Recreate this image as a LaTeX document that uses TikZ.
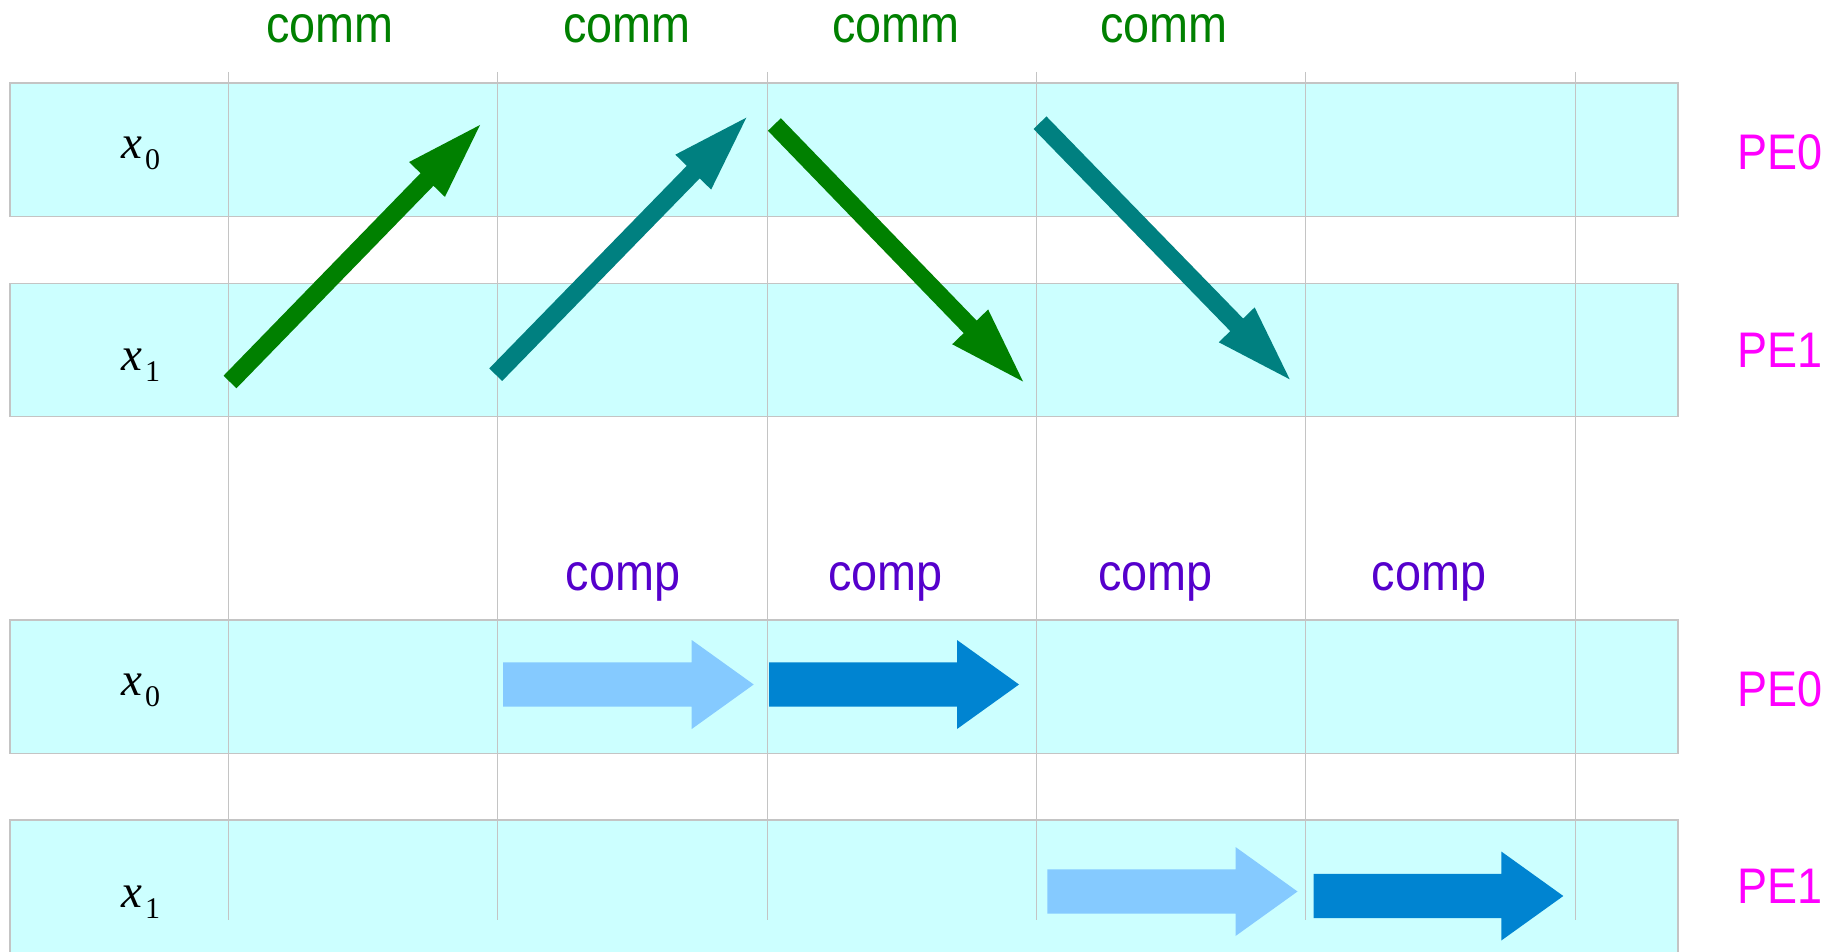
\documentclass[tikz,border=0pt]{standalone}
\usepackage{fontspec}
\setmainfont{Liberation Sans}[FakeStretch=0.9]
\newfontfamily\serifx{Liberation Serif}
\usetikzlibrary{calc}
\definecolor{rowfill}{HTML}{CCFFFF}
\definecolor{rowline}{HTML}{C4C4C4}
\definecolor{gridline}{HTML}{C4C4C4}
\definecolor{commgreen}{HTML}{008000}
\definecolor{commteal}{HTML}{008080}
\definecolor{compviolet}{HTML}{5500CC}
\definecolor{lightblue}{HTML}{85CAFF}
\definecolor{darkblue}{HTML}{0084D1}
\definecolor{pemag}{HTML}{FF00FF}
% tail, tip, shaft half width, head length, head half width, colour
\newcommand\blockarrow[6]{%
  \coordinate (ba-h) at ($(#2)!#4!(#1)$);
  \fill[#6] ($(#1)!#3!90:(#2)$) -- ($(ba-h)!#3!90:(#2)$) -- ($(ba-h)!#5!90:(#2)$)
    -- (#2) -- ($(ba-h)!#5!-90:(#2)$) -- ($(ba-h)!#3!-90:(#2)$) -- ($(#1)!#3!-90:(#2)$) -- cycle;}
\newcommand\xsub[1]{{\serifx\fontsize{47}{50}\selectfont\itshape x}\hspace{3pt}\raisebox{-11pt}{\serifx\fontsize{30}{32}\selectfont #1}}
\begin{document}
\begin{tikzpicture}[x=1pt,y=-1pt,
  rowbox/.style={fill=rowfill,draw=rowline,line width=1.6pt},
  gridrule/.style={draw=gridline,line width=1pt},
  commlabel/.style={text=commgreen,anchor=base,inner sep=0pt,font=\fontsize{52}{60}\selectfont},
  complabel/.style={text=compviolet,anchor=base,inner sep=0pt,font=\fontsize{52}{60}\selectfont},
  pelabel/.style={text=pemag,anchor=base west,inner sep=0pt,font=\fontsize{50}{60}\selectfont},
  xlabel/.style={anchor=base west,inner sep=0pt,text=black}]
\useasboundingbox (0,0) rectangle (1843,952);
\fill[white] (0,0) rectangle (1843,952);
% rows
\path[rowbox] (10,83.3) rectangle (1678,216.3);
\path[rowbox] (10,283.3) rectangle (1678,416.3);
\path[rowbox] (10,620) rectangle (1678,753.3);
\path[rowbox] (10,820) rectangle (1678,960);
% grid rules
\foreach \gx in {228.5,497.5,767.5,1036.5,1305.5,1575.5}
  \draw[gridrule] (\gx,72) -- (\gx,920);
% labels
\node[commlabel] (cm1) at (330,42.5) {comm};
\node[commlabel] (cm2) at (627,42.5) {comm};
\node[commlabel] (cm3) at (896,42.5) {comm};
\node[commlabel] (cm4) at (1163.7,42.5) {comm};
\node[complabel] (cp1) at (623,590) {comp};
\node[complabel] (cp2) at (885.7,590) {comp};
\node[complabel] (cp3) at (1155.5,590) {comp};
\node[complabel] (cp4) at (1429,590) {comp};
\node[pelabel] (pa0) at (1737.6,170) {PE0};
\node[pelabel] (pa1) at (1737.6,367) {PE1};
\node[pelabel] (pb0) at (1737.6,706.7) {PE0};
\node[pelabel] (pb1) at (1737.6,903) {PE1};
\node[xlabel] (xa0) at (121,159) {\xsub{0}};
\node[xlabel] (xa1) at (121,370) {\xsub{1}};
\node[xlabel] (xb0) at (121,695) {\xsub{0}};
\node[xlabel] (xb1) at (121,907) {\xsub{1}};
% communication arrows
\coordinate (t1) at (230,382);     \coordinate (h1) at (480,125);
\coordinate (t2) at (495.7,374.7); \coordinate (h2) at (746.3,117.7);
\coordinate (t3) at (774.4,124.5); \coordinate (h3) at (1023,381.5);
\coordinate (t4) at (1040,122.7);  \coordinate (h4) at (1289.7,379.3);
\blockarrow{t1}{h1}{9pt}{76pt}{25pt}{commgreen}
\blockarrow{t2}{h2}{9pt}{76pt}{25pt}{commteal}
\blockarrow{t3}{h3}{9pt}{76pt}{25pt}{commgreen}
\blockarrow{t4}{h4}{9pt}{76pt}{25pt}{commteal}
% computation arrows
\coordinate (u1) at (503,684.5);    \coordinate (v1) at (753.7,684.5);
\coordinate (u2) at (769,684.5);    \coordinate (v2) at (1019,684.5);
\coordinate (u3) at (1047.3,891.5); \coordinate (v3) at (1297.5,891.5);
\coordinate (u4) at (1313.7,896);   \coordinate (v4) at (1563.3,896);
\blockarrow{u1}{v1}{22.2pt}{62pt}{44.5pt}{lightblue}
\blockarrow{u2}{v2}{22.2pt}{62pt}{44.5pt}{darkblue}
\blockarrow{u3}{v3}{22.2pt}{62pt}{44.5pt}{lightblue}
\blockarrow{u4}{v4}{22.2pt}{62pt}{44.5pt}{darkblue}
\end{tikzpicture}
\end{document}
